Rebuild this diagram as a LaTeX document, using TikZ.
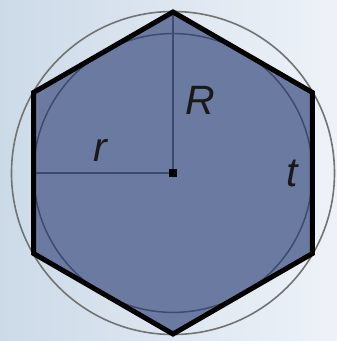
\documentclass[tikz,border=0pt]{standalone}
\usepackage{fontspec}
\setmainfont{Liberation Sans}
\usetikzlibrary{positioning}
\definecolor{hexfill}{HTML}{6B7AA0}
\definecolor{radiuscol}{HTML}{3E4B70}
\definecolor{bgleft}{HTML}{CCDAE8}
\definecolor{bgright}{HTML}{EEF2F8}

\begin{document}
\begin{tikzpicture}[x=1pt,y=1pt,
  rim/.style={line width=5pt, line join=miter},
  radiusline/.style={draw=radiuscol, line width=2pt},
  lbl/.style={font=\fontsize{41}{48}\selectfont\itshape, text=black!90, inner sep=0pt}]
\shade[left color=bgleft, right color=bgright] (-173,-168) rectangle (164,173);
\useasboundingbox (-173,-168) rectangle (164,173);
\coordinate (c) at (0,0);
\foreach \i in {1,...,6}
  \coordinate (v\i) at ({30+60*\i}:161);
\coordinate (m) at (-139.4,0);
\fill[hexfill] (v1) -- (v2) -- (v3) -- (v4) -- (v5) -- (v6) -- cycle;
\draw[radiuscol, line width=1.5pt] (c) circle (139.4);
\draw[radiusline] (c) -- (v1);
\draw[radiusline] (c) -- (m);
\draw[black!55, line width=1.6pt] (c) circle (161.5);
\draw[rim] (v1) -- (v2) -- (v3) -- (v4) -- (v5) -- (v6) -- cycle;
\node[fill=black, inner sep=0pt, minimum size=8pt] (dot) at (c) {};
\node[lbl] (lR) at (27,73) {R};
\node[lbl] (lr) at (-73,23) {r};
\node[lbl] (lt) at (119,0) {t};
\end{tikzpicture}
\end{document}
